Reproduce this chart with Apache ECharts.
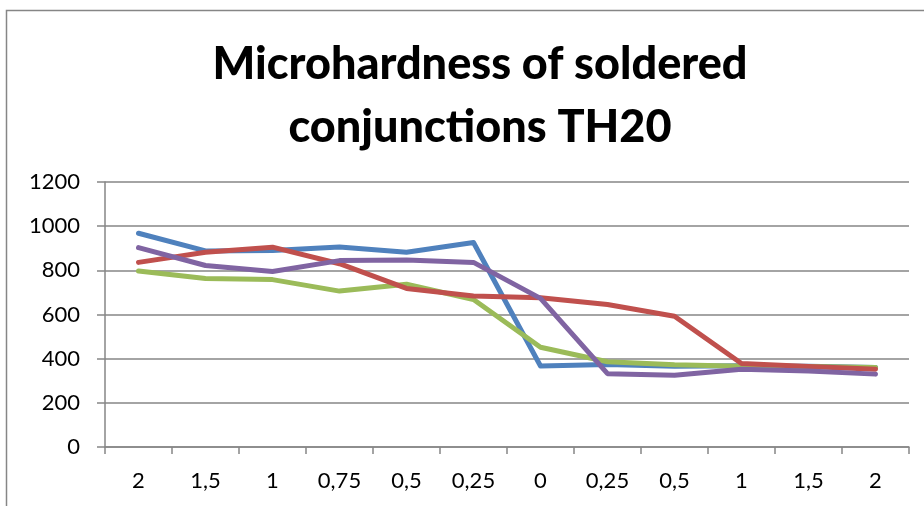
<!DOCTYPE html>
<html>
<head>
<meta charset="utf-8">
<script src="https://cdn.jsdelivr.net/npm/echarts@6/dist/echarts.min.js"></script>
<style>
  html, body { margin: 0; padding: 0; background: #fff; }
  #chart { width: 924px; height: 506px; }
</style>
</head>
<body>
<div id="chart"></div>
<script>
// distance labels along the soldered joint
var categories = ["2", "1,5", "1", "0,75", "0,5", "0,25", "0", "0,25", "0,5", "1", "1,5", "2"];
var yTicks = [0, 200, 400, 600, 800, 1000, 1200];

// series values
var blueValues   = [968, 888, 890, 906, 882, 926, 367, 374, 366, 368, 366, 360];
var greenValues  = [797, 763, 758, 706, 737, 668, 452, 386, 372, 366, 365, 360];
var redValues    = [836, 882, 905, 830, 718, 684, 676, 645, 592, 378, 364, 352];
var purpleValues = [903, 822, 795, 844, 847, 836, 673, 332, 325, 352, 344, 330];

var gray = "#868686";

function makeSeries(name, values, color) {
    return {
        name: name,
        type: "line",
        data: values,
        symbol: "none",
        lineStyle: { color: color, width: 5, cap: "round", join: "round" },
        itemStyle: { color: color }
    };
}

var chart = echarts.init(document.getElementById("chart"), null, { renderer: "canvas" });
chart.setOption({
    animation: false,
    backgroundColor: "#fff",
    textStyle: { fontFamily: "Lato, 'Open Sans', sans-serif" },
    title: {
        text: "Microhardness of soldered\nconjunctions TH20",
        left: 475,
        top: 28,
        textAlign: "center",
        textStyle: { fontSize: 45, fontWeight: 900, color: "#000", lineHeight: 63, fontFamily: "Lato, sans-serif" }
    },
    graphic: [{
        type: "rect",
        shape: { x: 6.5, y: 10.5, width: 1000, height: 1000 },
        style: { fill: null, stroke: gray, lineWidth: 1.5 },
        silent: true
    }],
    grid: { left: 105, right: 15, top: 182, bottom: 59 },
    xAxis: {
        type: "category",
        data: categories,
        boundaryGap: true,
        axisLine: { lineStyle: { color: gray, width: 1.5 } },
        axisTick: { show: true, length: 7, interval: 0, lineStyle: { color: gray, width: 1.5 } },
        axisLabel: { color: "#000", fontSize: 22, margin: 23, interval: 0 }
    },
    yAxis: {
        type: "value",
        min: yTicks[0],
        max: yTicks[yTicks.length - 1],
        interval: 200,
        axisLine: { show: true, lineStyle: { color: gray, width: 1.5 } },
        axisTick: { show: true, length: 8, lineStyle: { color: gray, width: 1.5 } },
        axisLabel: { color: "#000", fontSize: 22, margin: 25, formatter: function (v) { return String(v); } },
        splitLine: { show: true, lineStyle: { color: gray, width: 1.5 } }
    },
    series: [
        makeSeries("Series 1", blueValues, "#4F81BD"),
        makeSeries("Series 3", greenValues, "#9BBB59"),
        makeSeries("Series 2", redValues, "#C0504D"),
        makeSeries("Series 4", purpleValues, "#8064A2")
    ]
});
</script>
</body>
</html>
